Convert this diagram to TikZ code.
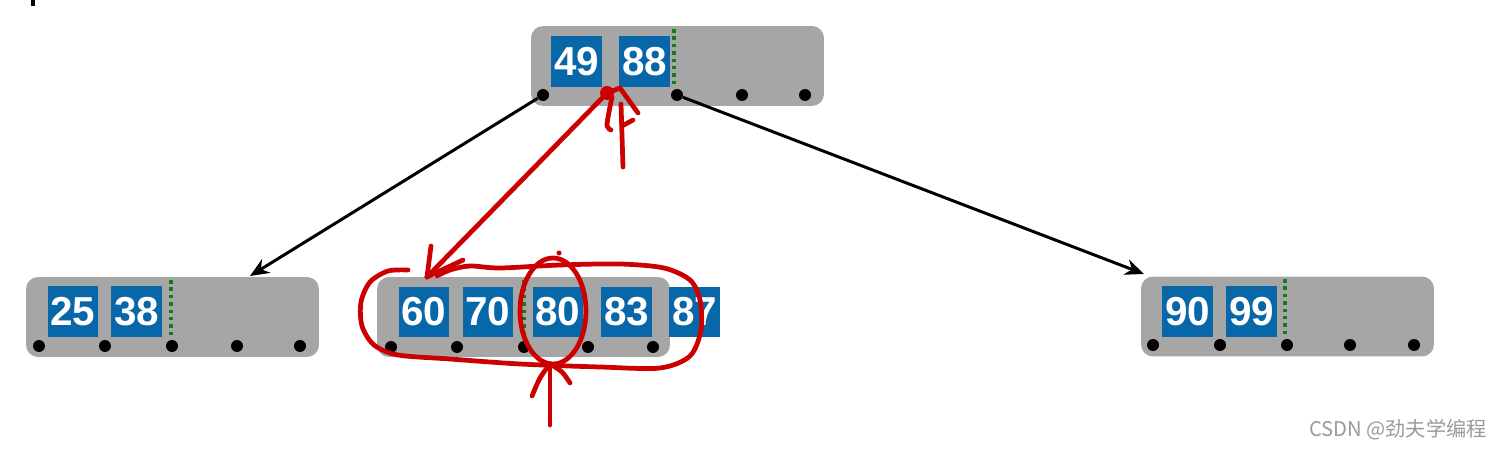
\documentclass[tikz,border=0pt]{standalone}
\usepackage{fontspec}
\setmainfont{Liberation Sans}
\newfontfamily\cjk{Noto Sans CJK SC}
\usetikzlibrary{arrows.meta}
\definecolor{nodegray}{HTML}{A6A6A6}
\definecolor{keyblue}{HTML}{0867A8}
\definecolor{dotgreen}{HTML}{167A16}
\definecolor{pen}{HTML}{CC0000}
\definecolor{wm}{HTML}{9A9A9A}
\tikzset{
  graybox/.style={fill=nodegray, rounded corners=0.24cm, minimum width=5.86cm, minimum height=1.6cm, inner sep=0pt},
  keybox/.style={fill=keyblue, text=white, minimum width=1.02cm, minimum height=1.02cm, inner sep=0pt, font=\fontsize{23}{23}\selectfont\bfseries},
  ptr/.style={circle, fill=black, minimum size=0.24cm, inner sep=0pt},
  sep/.style={dotgreen, line width=2pt, dash pattern=on 2pt off 2.2pt},
  link/.style={line width=1.7pt, -{Stealth[length=0.38cm, width=0.32cm]}},
  ink/.style={pen, line width=2.7pt, line cap=round, line join=round},
}
\begin{document}
\begin{tikzpicture}[x=0.02cm, y=-0.02cm]
\useasboundingbox (0,0) rectangle (1499,449);
% stray mark top-left
\fill[black] (31,0) rectangle (35,6);
% gray nodes
\node[graybox] (top) at (677.5,66) {};
\node[graybox] (left) at (172.5,317) {};
\node[graybox] (mid) at (523.5,317) {};
\node[graybox] (right) at (1287.5,316.5) {};
% top keys
\node[keybox] (k49) at (576.5,61.5) {49};
\node[keybox] (k88) at (644.5,61.5) {88};
\draw[sep] (674,29) -- (674,86);
\node[ptr] (t0) at (543,95) {};
\node[ptr] (t1) at (677,95) {};
\node[ptr] (t2) at (742,95) {};
\node[ptr] (t3) at (805,95) {};
% left keys
\node[keybox] (k25) at (73,311.5) {25};
\node[keybox] (k38) at (136.5,311.5) {38};
\draw[sep] (171,280) -- (171,338);
\node[ptr] (l0) at (39,346) {};
\node[ptr] (l1) at (105,346) {};
\node[ptr] (l2) at (172,346) {};
\node[ptr] (l3) at (237,346) {};
\node[ptr] (l4) at (300,346) {};
% middle keys
\draw[sep] (524,280) -- (524,338);
\node[keybox] (k60) at (424,312) {60};
\node[keybox] (k70) at (488,312) {70};
\node[keybox] (k80) at (558,312) {80};
\node[keybox] (k83) at (626.5,312) {83};
\node[keybox] (k87) at (694.5,312) {87};
\node[ptr] (m0) at (391,347) {};
\node[ptr] (m1) at (457,347) {};
\node[ptr] (m2) at (524,347) {};
\node[ptr] (m3) at (588,347) {};
\node[ptr] (m4) at (653,347) {};
% right keys
\node[keybox] (k90) at (1187.5,311.5) {90};
\node[keybox] (k99) at (1251.5,311.5) {99};
\draw[sep] (1285,279) -- (1285,338);
\node[ptr] (r0) at (1153,345) {};
\node[ptr] (r1) at (1220,345) {};
\node[ptr] (r2) at (1287,345) {};
\node[ptr] (r3) at (1350,345) {};
\node[ptr] (r4) at (1414,345) {};
% connectors
\coordinate (lin) at (250,276);
\coordinate (rin) at (1144,274);
\draw[link] (t0) -- (lin);
\draw[link] (t1) -- (rin);
% red annotations
\coordinate (tipA) at (427,277);
\coordinate (tipB) at (607,93);
\draw[ink] (tipA) -- (522,180) -- (tipB);
\draw[ink] (tipA) -- (431,246);
\draw[ink] (tipA) -- (463,260);
\fill[pen] (tipB) circle (7);
\draw[ink] (tipB) -- (620,88) -- (638,113);
\draw[ink] plot[smooth] coordinates {(612,97) (609,112) (607,126) (611,130)};
\draw[ink] (621,104) -- (623,167);
\draw[ink] (622,126) -- (633,120);
% loop round the middle node
\draw[ink] plot[smooth] coordinates {(408,270) (388,271) (370,282) (361,302) (362,326) (374,345) (398,355) (450,359) (520,364) (600,367) (660,368) (690,356) (701,330) (700,300) (690,280) (664,268) (620,264) (560,265) (500,268) (470,266) (450,270) (437,276)};
% ellipse round 80
\draw[ink] (553,311) ellipse [x radius=33, y radius=53];
\fill[pen] (559,253) circle (2.5);
% arrow below 80
\coordinate (tipC) at (550,364);
\draw[ink] (tipC) -- (550,425);
\draw[ink] plot[smooth] coordinates {(tipC) (540,378) (532,396)};
\draw[ink] plot[smooth] coordinates {(tipC) (562,372) (570,383)};
% watermark
\node[text=wm, font=\cjk\fontsize{11.5}{12}\selectfont, inner sep=0pt] (wmk) at (1398,430) {CSDN @劲夫学编程};
\end{tikzpicture}
\end{document}
